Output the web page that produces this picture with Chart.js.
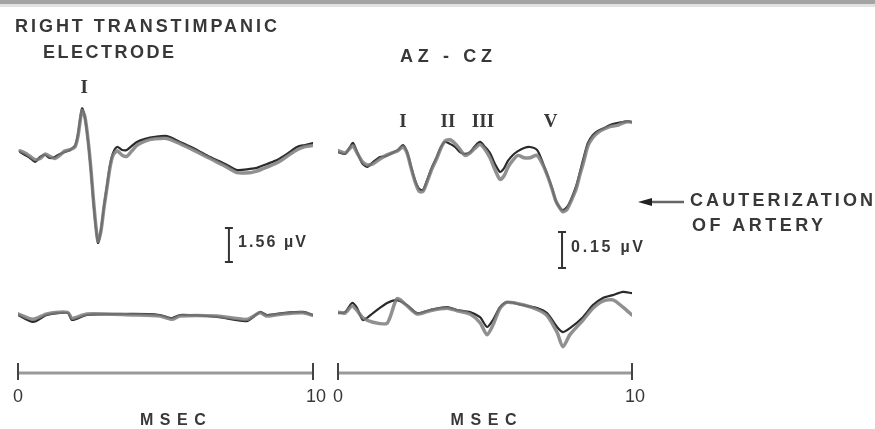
<!DOCTYPE html>
<html>
<head>
<meta charset="utf-8">
<script src="https://cdn.jsdelivr.net/npm/chart.js@4.4.1/dist/chart.umd.min.js"></script>
<style>
  html, body { margin: 0; padding: 0; background: #fff; }
  #wrap { position: relative; width: 875px; height: 429px; overflow: hidden; }
  #wrap canvas { position: absolute; left: 0; top: 0; }
  #edge { position: absolute; left: 0; top: 0; width: 875px; height: 4px; background: #a4a4a4; border-bottom: 3px solid #e2e2e2; }
</style>
</head>
<body>
<div id="wrap">
  <canvas id="left" width="875" height="429"></canvas>
  <canvas id="right" width="875" height="429"></canvas>
  <div id="edge"></div>
</div>
<script>
// sweep time in msec, amplitudes in µV; A = first sweep, B = repeat sweep

// right transtympanic electrode, before cauterization
const leftTime = [0.07, 0.24, 0.41, 0.58, 0.75, 0.92, 1.08, 1.25, 1.42, 1.59, 1.76, 1.93, 2.03, 2.17, 2.27,
  2.37, 2.47, 2.58, 2.71, 2.81, 2.92, 3.02, 3.12, 3.22, 3.36, 3.53, 3.69, 3.86, 4.03, 4.31,
  4.64, 5.05, 5.49, 6.0, 6.51, 7.02, 7.42, 7.86, 8.10, 8.44, 8.78, 9.12, 9.46, 9.73, 10.0]
const leftTopA = [0, -0.14, -0.28, -0.46, -0.23, -0.14, -0.28, -0.23, -0.09, 0, 0.09, 0.28, 0.78, 2.0, 1.56,
  0.55, -0.83, -2.66, -4.17, -3.58, -2.43, -1.51, -0.60, -0.05, 0.23, 0.09, 0.09, 0.28, 0.46, 0.60,
  0.69, 0.73, 0.46, 0.14, -0.23, -0.55, -0.83, -0.78, -0.73, -0.55, -0.37, -0.09, 0.23, 0.32, 0.41]
const leftTopB = [0.05, -0.05, -0.2, -0.35, -0.3, -0.1, -0.2, -0.3, -0.15, 0.05, 0.1, 0.22, 0.7, 1.9, 1.6,
  0.6, -0.75, -2.55, -4.1, -3.65, -2.5, -1.6, -0.7, -0.15, 0.05, -0.15, -0.2, 0.05, 0.3, 0.5,
  0.6, 0.62, 0.38, 0.05, -0.3, -0.65, -0.95, -0.95, -0.88, -0.7, -0.5, -0.2, 0.1, 0.25, 0.3]

// right transtympanic electrode, after cauterization
const leftLowTime = [0, 0.51, 0.98, 1.69, 1.83, 2.34, 3.90, 4.81, 5.22, 5.49, 6.75, 7.76, 8.20, 8.44, 8.98, 9.66, 10.0]
const leftLowA = [0, -0.32, 0, 0.09, -0.23, 0, 0.05, 0, -0.14, 0, -0.09, -0.28, 0.14, 0, 0.09, 0.14, 0]
const leftLowB = [0.05, -0.2, 0.05, 0.12, -0.15, 0.05, 0, -0.05, -0.2, -0.05, -0.05, -0.2, 0.1, -0.05, 0.05, 0.1, -0.02]

// AZ-CZ, before cauterization
const rightTime = [0.00, 0.24, 0.41, 0.51, 0.65, 0.82, 0.99, 1.19, 1.43, 1.63, 1.84, 2.04, 2.21, 2.35, 2.48,
  2.62, 2.76, 2.89, 3.03, 3.20, 3.37, 3.50, 3.64, 3.81, 3.98, 4.15, 4.32, 4.49, 4.66, 4.83,
  5.00, 5.17, 5.34, 5.51, 5.65, 5.78, 5.95, 6.12, 6.33, 6.53, 6.77, 6.97, 7.14, 7.28, 7.41,
  7.55, 7.65, 7.79, 7.93, 8.10, 8.23, 8.37, 8.50, 8.67, 8.84, 9.05, 9.25, 9.49, 9.69, 9.86, 10.0]
const rightTopA = [0.004, -0.004, 0.025, 0.042, 0.004, -0.042, -0.058, -0.038, -0.017, -0.013, 0, 0.013, 0.033, 0.004, -0.054,
  -0.113, -0.150, -0.154, -0.113, -0.058, -0.013, 0.025, 0.046, 0.038, 0.025, 0.004, -0.004, 0.004, 0.029, 0.046,
  0.025, 0, -0.046, -0.079, -0.063, -0.033, -0.008, 0.008, 0.021, 0.025, 0.013, -0.042, -0.096, -0.146, -0.200,
  -0.229, -0.238, -0.225, -0.192, -0.138, -0.079, -0.013, 0.042, 0.075, 0.092, 0.104, 0.117, 0.125, 0.129, 0.133, 0.129]
const rightTopB = [0.01, 0.0, 0.02, 0.03, 0.0, -0.035, -0.05, -0.045, -0.025, -0.01, 0.0, 0.01, 0.025, 0.0, -0.06,
  -0.12, -0.16, -0.16, -0.12, -0.065, -0.02, 0.02, 0.05, 0.055, 0.04, 0.015, -0.01, 0.0, 0.02, 0.035,
  0.015, -0.02, -0.07, -0.11, -0.095, -0.06, -0.03, -0.01, -0.02, -0.02, -0.01, -0.05, -0.1, -0.15, -0.2,
  -0.23, -0.245, -0.235, -0.2, -0.15, -0.09, -0.03, 0.03, 0.065, 0.085, 0.1, 0.11, 0.115, 0.125, 0.13, 0.128]

// AZ-CZ, after cauterization
const rightLowTime = [0.0, 0.24, 0.48, 0.65, 0.85, 1.19, 1.67, 2.01, 2.35, 2.69, 3.13, 3.71, 4.05, 4.49, 4.83,
  5.07, 5.27, 5.51, 5.75, 6.29, 6.77, 7.11, 7.45, 7.65, 7.89, 8.33, 8.67, 9.01, 9.35, 9.69, 10.0]
const rightLowA = [0, 0.004, 0.042, 0.021, -0.029, 0, 0.042, 0.054, 0.033, 0, 0.013, 0.025, 0.013, 0.004, -0.017,
  -0.058, -0.029, 0.025, 0.046, 0.033, 0.021, 0, -0.058, -0.079, -0.063, -0.017, 0.033, 0.063, 0.075, 0.088, 0.083]
const rightLowB = [0.004, 0, 0.03, 0.01, -0.02, -0.038, -0.042, 0.06, 0.03, -0.004, 0.01, 0.02, 0.01, -0.004, -0.04,
  -0.09, -0.05, 0.02, 0.045, 0.035, 0.015, -0.01, -0.08, -0.14, -0.09, -0.03, 0.02, 0.05, 0.055, 0.025, -0.008]

const timeTicks = [0, 10]
const timeLabels = ['0', '10']
const leftWaves = ['I']
const leftWaveTimes = [2.24]
const rightWaves = ['I', 'II', 'III', 'V']
const rightWaveTimes = [2.21, 3.74, 4.93, 7.23]
const leftCal = 1.56
const rightCal = 0.15

const INK = '#383838'
const SANS = '"Liberation Sans", "DejaVu Sans", sans-serif'
const SERIF = '"Liberation Serif", "DejaVu Serif", serif'

// draw text stretched over a given width with letter spacing
function spaced(ctx, text, x, y, width) {
  ctx.letterSpacing = '0px'
  const w = ctx.measureText(text).width
  const gap = text.length > 1 ? (width - w) / (text.length - 1) : 0
  ctx.letterSpacing = gap + 'px'
  ctx.textAlign = 'left'
  ctx.fillText(text, x, y)
  ctx.letterSpacing = '0px'
}

function pts(time, amp, offset) {
  return time.map((t, i) => ({x: t, y: amp[i] + offset}))
}

function sweep(data, dark) {
  return {
    data,
    borderColor: dark ? '#2a2a2a' : 'rgba(125,125,125,0.85)',
    borderWidth: dark ? 2.2 : 3.5,
    pointRadius: 0,
    tension: 0.25,
    borderCapStyle: 'round',
    borderJoinStyle: 'round'
  }
}

// axis, calibration bar, wave numbers and captions
const extras = {
  id: 'extras',
  afterDatasetsDraw(chart, args, o) {
    const {ctx, scales: {x, y}} = chart
    ctx.save()
    ctx.fillStyle = INK
    ctx.strokeStyle = INK
    ctx.textBaseline = 'middle'

    // time axis
    const ay = y.getPixelForValue(o.axisLevel)
    ctx.strokeStyle = '#9a9a9a'
    ctx.lineWidth = 3
    ctx.beginPath()
    ctx.moveTo(x.getPixelForValue(0), ay)
    ctx.lineTo(x.getPixelForValue(10), ay)
    ctx.stroke()
    ctx.strokeStyle = '#444'
    ctx.lineWidth = 2
    ctx.font = '18px ' + SANS
    timeTicks.forEach((t, i) => {
      const px = x.getPixelForValue(t)
      ctx.beginPath()
      ctx.moveTo(px, ay - 10)
      ctx.lineTo(px, ay + 7)
      ctx.stroke()
      ctx.textAlign = 'center'
      ctx.fillText(timeLabels[i], px + (i ? 3 : 0), ay + 24)
    })
    ctx.font = 'bold 16px ' + SANS
    const mx = x.getPixelForValue(o.msecAt)
    spaced(ctx, 'MSEC', mx - 33, ay + 48, 66)

    // calibration bar
    const cx = x.getPixelForValue(o.cal.t)
    const top = y.getPixelForValue(o.cal.level + o.cal.value / 2)
    const bot = y.getPixelForValue(o.cal.level - o.cal.value / 2)
    ctx.strokeStyle = '#333'
    ctx.lineWidth = 2
    ctx.beginPath()
    ctx.moveTo(cx, top); ctx.lineTo(cx, bot)
    ctx.moveTo(cx - 4, top); ctx.lineTo(cx + 4, top)
    ctx.moveTo(cx - 4, bot); ctx.lineTo(cx + 4, bot)
    ctx.stroke()
    ctx.font = 'bold 16px ' + SANS
    spaced(ctx, o.cal.text, cx + 9, (top + bot) / 2 - 2, o.cal.textWidth)

    // wave numbers
    ctx.font = 'bold 19px ' + SERIF
    ctx.textAlign = 'center'
    o.waves.forEach((w, i) => {
      ctx.fillText(w, x.getPixelForValue(o.waveTimes[i]), y.getPixelForValue(o.waveLevel))
    })

    // captions
    ctx.font = 'bold 18px ' + SANS
    o.captions.forEach(c => spaced(ctx, c.text, c.x, c.y, c.w))

    if (o.arrow) {
      const a = o.arrow
      ctx.strokeStyle = '#666'
      ctx.lineWidth = 2.5
      ctx.beginPath()
      ctx.moveTo(a.x0 + 8, a.y); ctx.lineTo(a.x1, a.y)
      ctx.stroke()
      ctx.fillStyle = '#222'
      ctx.beginPath()
      ctx.moveTo(a.x0, a.y)
      ctx.lineTo(a.x0 + 14, a.y - 4)
      ctx.lineTo(a.x0 + 14, a.y + 4)
      ctx.closePath()
      ctx.fill()
    }
    ctx.restore()
  }
}

function makeChart(id, p) {
  return new Chart(document.getElementById(id), {
    type: 'line',
    data: {
      datasets: [
        sweep(pts(p.topTime, p.topB, 0), false),
        sweep(pts(p.topTime, p.topA, 0), true),
        sweep(pts(p.lowTime, p.lowB, p.lowOffset), false),
        sweep(pts(p.lowTime, p.lowA, p.lowOffset), true)
      ]
    },
    options: {
      responsive: false,
      animation: false,
      layout: {padding: {left: p.padLeft, right: p.padRight, top: 0, bottom: 0}},
      scales: {
        x: {type: 'linear', min: 0, max: 10, display: false},
        y: {type: 'linear', min: p.yMin, max: p.yMax, display: false}
      },
      plugins: {
        legend: {display: false},
        tooltip: {enabled: false},
        extras: p.extras
      }
    },
    plugins: [extras]
  })
}

makeChart('left', {
  topTime: leftTime, topA: leftTopA, topB: leftTopB,
  lowTime: leftLowTime, lowA: leftLowA, lowB: leftLowB,
  padLeft: 18, padRight: 562, yMin: -12.71, yMax: 6.97, lowOffset: -7.48,
  extras: {
    axisLevel: -10.14, msecAt: 5.25,
    cal: {t: 7.15, level: -4.27, value: leftCal, text: leftCal.toFixed(2) + ' µV', textWidth: 68},
    waves: leftWaves, waveTimes: leftWaveTimes, waveLevel: 2.94,
    captions: [
      {text: 'RIGHT TRANSTIMPANIC', x: 15, y: 27, w: 262},
      {text: 'ELECTRODE', x: 43, y: 53, w: 131}
    ]
  }
})

makeChart('right', {
  topTime: rightTime, topA: rightTopA, topB: rightTopB,
  lowTime: rightLowTime, lowA: rightLowA, lowB: rightLowB,
  padLeft: 338, padRight: 243, yMin: -1.15, yMax: 0.6375, lowOffset: -0.667,
  extras: {
    axisLevel: -0.917, msecAt: 4.95,
    cal: {t: 7.62, level: -0.404, value: rightCal, text: rightCal.toFixed(2) + ' µV', textWidth: 72},
    waves: rightWaves, waveTimes: rightWaveTimes, waveLevel: 0.129,
    captions: [
      {text: 'AZ - CZ', x: 400, y: 57, w: 92},
      {text: 'CAUTERIZATION', x: 690, y: 201, w: 183},
      {text: 'OF ARTERY', x: 692, y: 226, w: 131}
    ],
    arrow: {x0: 638, x1: 684, y: 202}
  }
})
</script>
</body>
</html>
